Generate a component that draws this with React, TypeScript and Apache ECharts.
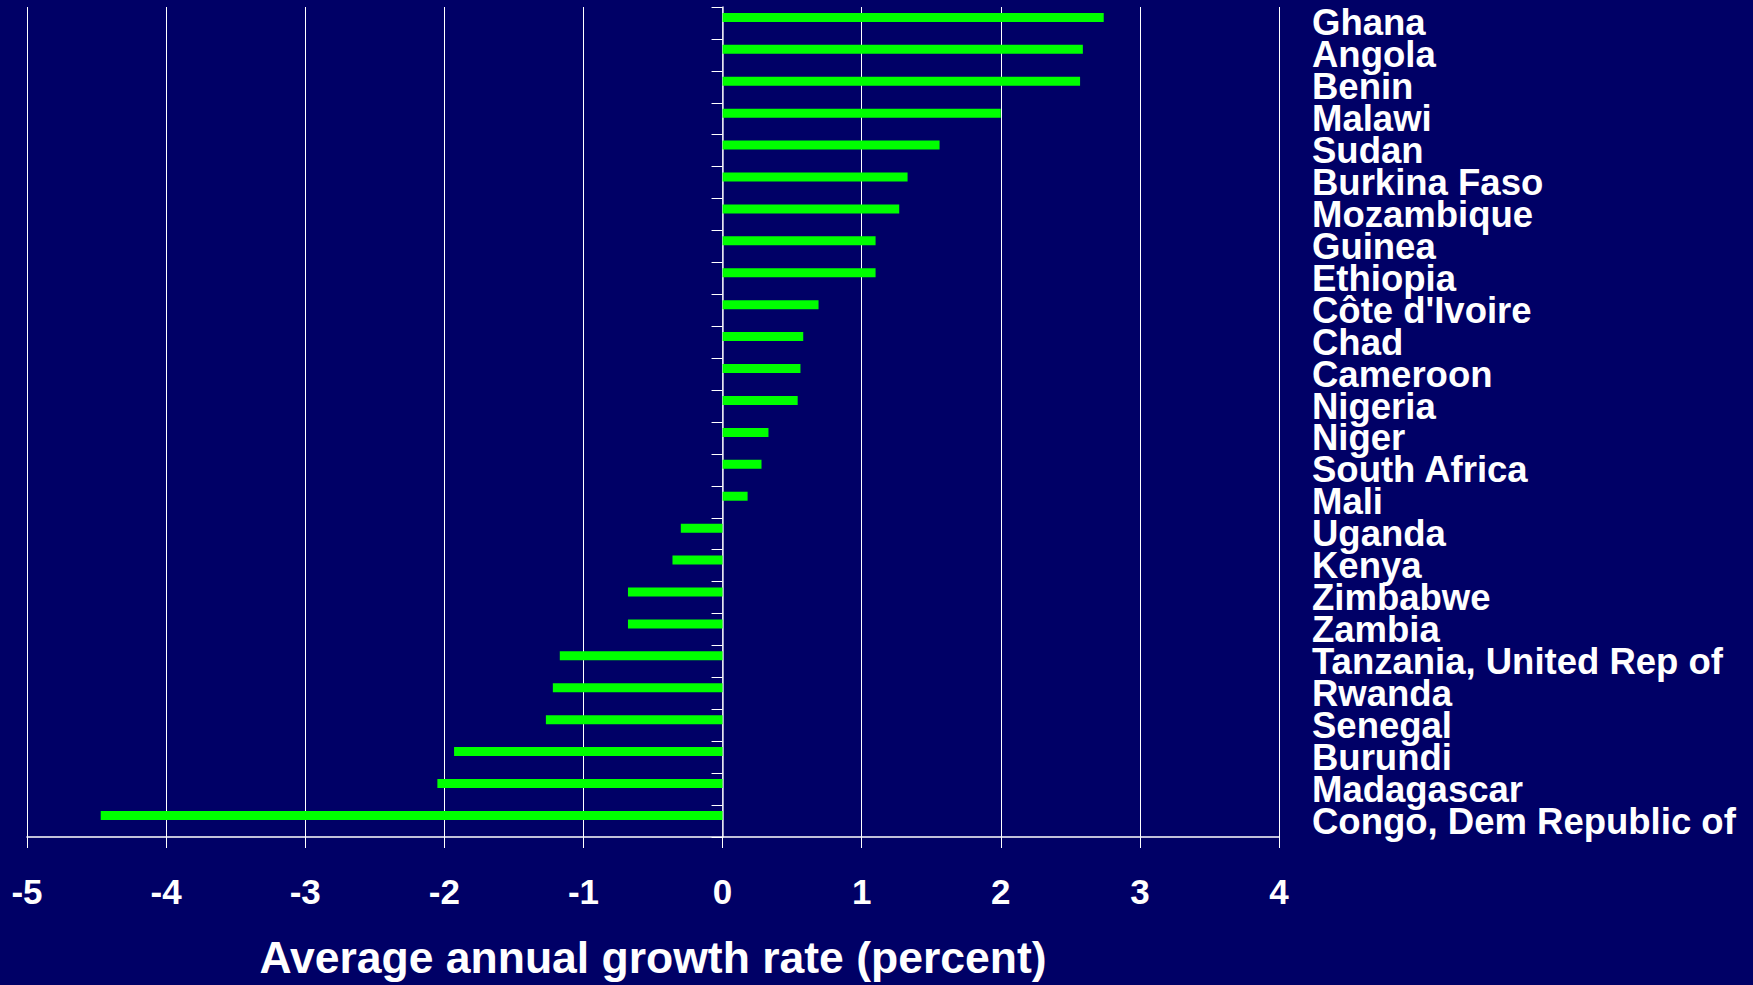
import React, { useEffect, useRef } from "react";
import * as echarts from "echarts";

const countries: string[] = [
  "Ghana",
  "Angola",
  "Benin",
  "Malawi",
  "Sudan",
  "Burkina Faso",
  "Mozambique",
  "Guinea",
  "Ethiopia",
  "Côte d'Ivoire",
  "Chad",
  "Cameroon",
  "Nigeria",
  "Niger",
  "South Africa",
  "Mali",
  "Uganda",
  "Kenya",
  "Zimbabwe",
  "Zambia",
  "Tanzania, United Rep of",
  "Rwanda",
  "Senegal",
  "Burundi",
  "Madagascar",
  "Congo, Dem Republic of",
];

const growthRates: number[] = [
  2.74, 2.59, 2.57, 2.0, 1.56, 1.33, 1.27, 1.1, 1.1, 0.69, 0.58, 0.56, 0.54,
  0.33, 0.28, 0.18, -0.3, -0.36, -0.68, -0.68, -1.17, -1.22, -1.27, -1.93,
  -2.05, -4.47,
];

const xTicks = { min: -5, max: 4, interval: 1 };
const axisTitle = "Average annual growth rate (percent)";

const FONT = "'Liberation Sans', Arial, Helvetica, sans-serif";

export default function App() {
  const ref = useRef<HTMLDivElement>(null);

  useEffect(() => {
    if (!ref.current) return;
    const chart = echarts.init(ref.current, undefined, { renderer: "svg" });
    chart.setOption({
      animation: false,
      backgroundColor: "#000066",
      grid: { left: 27, right: 474, top: 7, bottom: 143, containLabel: false },
      xAxis: {
        type: "value",
        min: xTicks.min,
        max: xTicks.max,
        interval: xTicks.interval,
        position: "bottom",
        axisLine: { show: true, onZero: false, lineStyle: { color: "#ffffff", width: 1.5 } },
        axisTick: { show: true, length: 11, lineStyle: { color: "#ffffff", width: 1 } },
        splitLine: { show: true, lineStyle: { color: "#ffffff", width: 1 } },
        axisLabel: {
          color: "#ffffff",
          fontFamily: FONT,
          fontWeight: "bold",
          fontSize: 35,
          margin: 37,
        },
        name: axisTitle,
        nameLocation: "middle",
        nameGap: 98,
        nameTextStyle: {
          color: "#ffffff",
          fontFamily: FONT,
          fontWeight: "bold",
          fontSize: 44.5,
        },
      },
      yAxis: [
        {
          type: "category",
          data: countries,
          inverse: true,
          position: "left",
          axisLine: { show: true, onZero: true, lineStyle: { color: "#d8d8e8", width: 1.5 } },
          axisTick: { show: true, length: 11, lineStyle: { color: "#ffffff", width: 1 } },
          axisLabel: { show: false },
          splitLine: { show: false },
        },
        {
          type: "category",
          data: countries,
          inverse: true,
          position: "right",
          axisLine: { show: false, onZero: false },
          axisTick: { show: false },
          splitLine: { show: false },
          axisLabel: {
            show: true,
            color: "#ffffff",
            fontFamily: FONT,
            fontWeight: "bold",
            fontSize: 36.5,
            lineHeight: 30,
            margin: 33,
            align: "left",
            interval: 0,
          },
        },
      ],
      series: [
        {
          type: "bar",
          name: "growth",
          yAxisIndex: 0,
          data: growthRates,
          barWidth: 9,
          barGap: "24%",
          itemStyle: { color: "#00ff00" },
        },
        {
          type: "bar",
          name: "spacer",
          yAxisIndex: 0,
          data: countries.map(() => null),
          barWidth: 9,
          barGap: "24%",
          itemStyle: { color: "#00ff00" },
        },
      ],
    });
    return () => chart.dispose();
  }, []);

  return (
    <div
      ref={ref}
      style={{ position: "absolute", left: 0, top: 0, width: 1753, height: 985 }}
    />
  );
}
